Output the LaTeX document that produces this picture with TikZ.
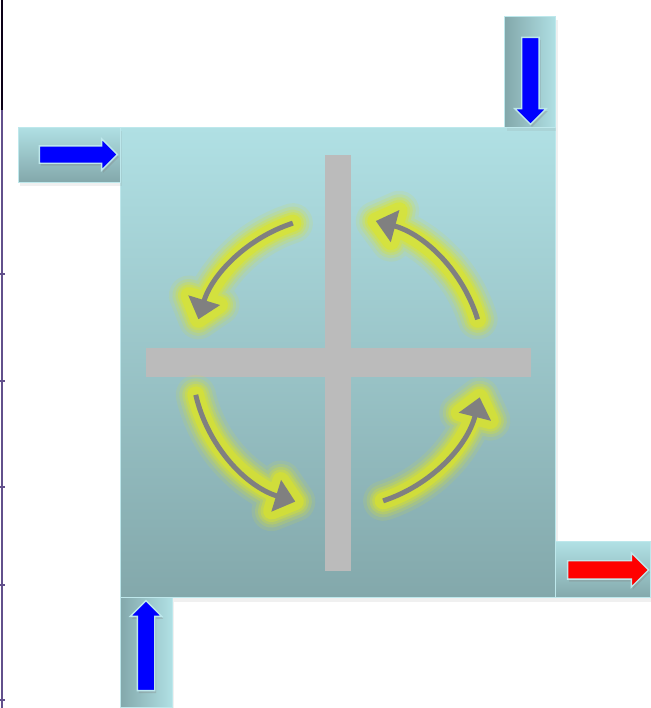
\documentclass[tikz,border=0pt]{standalone}
\usepackage{tikz}
\usetikzlibrary{shapes.arrows, arrows.meta, positioning, calc, shadows}
\definecolor{tanktop}{RGB}{176,224,228}
\definecolor{tankbot}{RGB}{131,168,171}
\definecolor{tankedge}{RGB}{190,232,236}
\definecolor{flowblue}{RGB}{0,0,255}
\definecolor{flowred}{RGB}{255,0,0}
\definecolor{bafflegray}{RGB}{187,187,187}
\definecolor{swirlgray}{RGB}{128,128,128}
\definecolor{swirlglow}{RGB}{222,230,36}
\definecolor{axisblack}{RGB}{12,0,24}
\definecolor{axispurple}{RGB}{98,80,140}

\begin{document}
\begin{tikzpicture}[x=0.02cm, y=0.02cm,
  tank/.style={draw=tankedge, line width=0.6pt, inner sep=0pt, outer sep=0pt,
    drop shadow={opacity=0.12, shadow xshift=0.04cm, shadow yshift=-0.08cm}},
  vshade/.style={top color=tanktop, bottom color=tankbot},
  hshade/.style={left color=tankbot, right color=tanktop},
  flow/.style={single arrow, draw=tankedge, line width=0.8pt, inner sep=0.16cm,
    single arrow head extend=0.14cm,
    drop shadow={opacity=0.3, shadow xshift=0.03cm, shadow yshift=-0.05cm}},
  baffle/.style={fill=bafflegray},
  glow/.style={draw=swirlglow, line cap=round, line join=round},
  swirl/.style={draw=swirlgray, line width=0.1cm, -{Triangle[length=0.4cm, width=0.64cm]}}
]
\useasboundingbox (0,0) rectangle (651,708);

% axis on the left edge
\draw[axisblack, line width=0.05cm] (2,708) -- (2,598);
\draw[axispurple, line width=0.05cm] (2,598) -- (2,0);
\foreach \ty in {434,327,221,123,8}
  \draw[axispurple, line width=0.04cm] (0,\ty) -- (5,\ty);

% chamber and ports
\node[tank, vshade, minimum width=8.72cm, minimum height=9.42cm] (chamber) at (338,345.5) {};
\node[tank, hshade, minimum width=1.02cm, minimum height=2.22cm, anchor=south east] (topin) at (chamber.north east) {};
\node[tank, vshade, minimum width=2.04cm, minimum height=1.10cm, anchor=north east] (leftin) at (chamber.north west) {};
\node[tank, hshade, minimum width=1.04cm, minimum height=2.20cm, anchor=north west] (botin) at (chamber.south west) {};
\node[tank, vshade, minimum width=1.90cm, minimum height=1.12cm, anchor=south west] (outlet) at (chamber.south east) {};

% flow arrows
\node[flow, fill=flowblue, minimum height=1.74cm, rotate=-90] (flowtop) at ([yshift=-0.1cm]topin.center) {};
\node[flow, fill=flowblue, minimum height=1.56cm] (flowleft) at ([xshift=0.1cm]leftin.center) {};
\node[flow, fill=flowblue, minimum height=1.80cm, rotate=90] (flowbot) at ([yshift=0.06cm]botin.center) {};
\node[flow, fill=flowred, minimum height=1.62cm, inner sep=0.17cm, single arrow head extend=0.16cm] (flowout) at (outlet.center) {};

% baffle cross
\fill[baffle] (325,137) rectangle (351,553);
\fill[baffle] (146,331) rectangle (531,360);

% swirl arrows
\coordinate (hub) at (338,346);
\foreach \a/\b in {17/75, 108/163, 193/253, 288/346} {
  \coordinate (s) at ($(hub)+(\a:146)$);
  \coordinate (t) at ($(hub)+(\b:146)$);
  \coordinate (tb) at ($(t)+(\b-90:20)$);
  \foreach \w/\o in {0.8/0.12, 0.66/0.18, 0.54/0.25, 0.44/0.35, 0.34/0.55}
    \draw[glow, line width=\w cm, opacity=\o] (s) arc[start angle=\a, end angle=\b, radius=146]
      ($(tb)+(\b:16)$) -- (t) -- ($(tb)+(\b+180:16)$) -- cycle;
  \draw[swirl] (s) arc[start angle=\a, end angle=\b, radius=146];
}
\end{tikzpicture}
\end{document}
